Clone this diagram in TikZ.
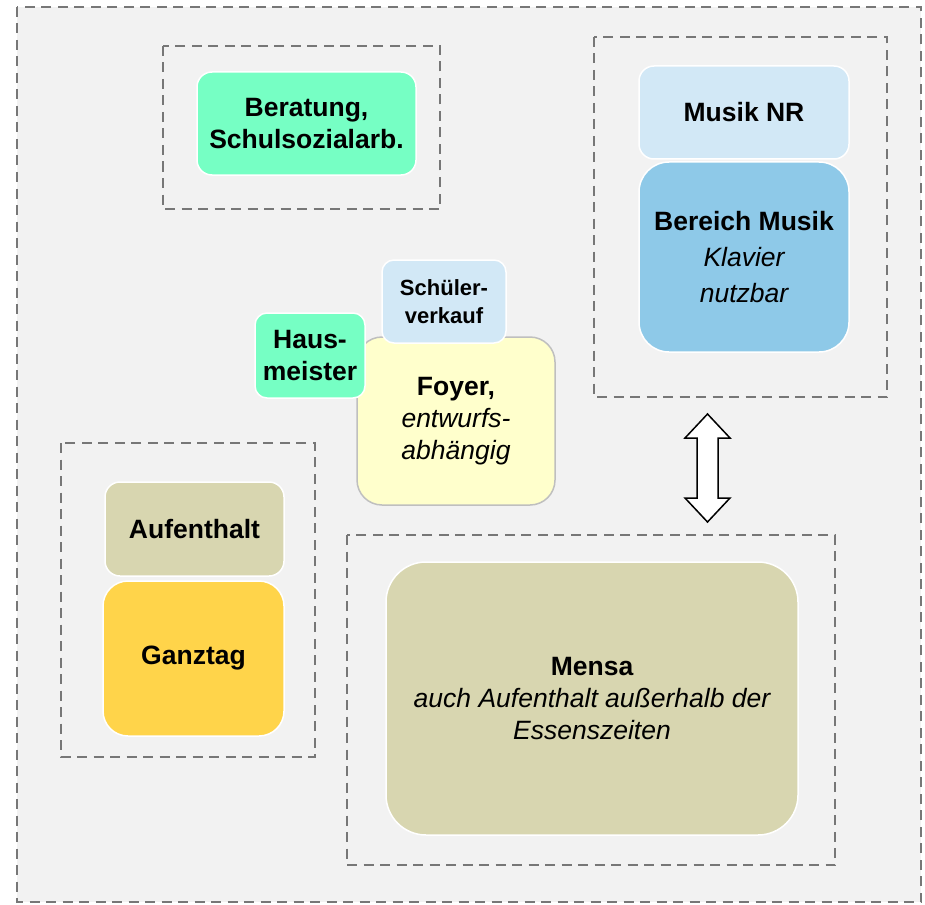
\documentclass[tikz,border=0pt]{standalone}
\usepackage{fontspec}
\setmainfont{Liberation Sans}
\definecolor{bgray}{HTML}{F2F2F2}
\definecolor{dgray}{HTML}{777777}
\definecolor{aqua}{HTML}{76FFC4}
\definecolor{lblue}{HTML}{D2E8F6}
\definecolor{mblue}{HTML}{8EC9E8}
\definecolor{khaki}{HTML}{D8D6B0}
\definecolor{gold}{HTML}{FFD44A}
\definecolor{lyellow}{HTML}{FFFFCC}
\definecolor{fborder}{HTML}{BFBFBF}
\tikzset{
  zone/.style={draw=dgray, line width=2.7pt, dash pattern=on 10pt off 6.5pt},
  room/.style={rectangle, draw=white, line width=1.5pt, align=center, inner sep=0pt,
    font=\fontsize{26.5}{32}\selectfont, text=black},
}
\begin{document}
\begin{tikzpicture}[x=1pt,y=-1pt]
\useasboundingbox (0,0) rectangle (925,904);
\fill[white] (0,0) rectangle (925,904);
% outer area
\draw[zone, fill=bgray] (17,7) rectangle (921,902);
% zones
\draw[zone] (163,46) rectangle (440,209);
\draw[zone] (594,37) rectangle (887,397);
\draw[zone] (61,443) rectangle (315,757);
\draw[zone] (347,535) rectangle (835,865);
% rooms
\node[room, fill=aqua, rounded corners=15pt, minimum width=219pt, minimum height=103pt]
  (beratung) at (306.5,123.5) {\bfseries Beratung,\\\bfseries Schulsozialarb.};
\node[room, fill=lblue, rounded corners=15pt, minimum width=210pt, minimum height=93pt]
  (musiknr) at (744,112.5) {\bfseries Musik NR};
\node[room, fill=mblue, rounded corners=30pt, minimum width=210pt, minimum height=190pt,
  font=\fontsize{26.5}{36}\selectfont]
  (musik) at (744,257) {\bfseries Bereich Musik\\\itshape Klavier\\\itshape nutzbar};
\node[room, draw=fborder, fill=lyellow, rounded corners=25pt, minimum width=198pt, minimum height=168pt]
  (foyer) at (456,421) {\bfseries Foyer,\\\itshape entwurfs-\\\itshape abh\"angig};
\node[room, fill=lblue, rounded corners=12pt, minimum width=124pt, minimum height=83pt,
  font=\fontsize{22}{28}\selectfont]
  (verkauf) at (444,301.5) {\bfseries Sch\"uler-\\\bfseries verkauf};
\node[room, fill=aqua, rounded corners=12pt, minimum width=110pt, minimum height=85pt]
  (hausmeister) at (310,355.5) {\bfseries Haus-\\\bfseries meister};
\node[room, fill=khaki, rounded corners=15pt, minimum width=179pt, minimum height=94pt]
  (aufenthalt) at (194.5,529) {\bfseries Aufenthalt};
\node[room, fill=gold, rounded corners=25pt, minimum width=181pt, minimum height=155pt]
  (ganztag) at (193.5,658.5) {\bfseries Ganztag};
\node[room, fill=khaki, rounded corners=40pt, minimum width=412pt, minimum height=273pt]
  (mensa) at (592,698.5) {\bfseries Mensa\\\itshape auch Aufenthalt au\ss erhalb der\\\itshape Essenszeiten};
% double block arrow
\draw[black, line width=1.5pt, fill=white, line join=miter]
  (707.5,414) -- (730,438) -- (718,438) -- (718,498) -- (730,498) -- (707.5,522)
  -- (685,498) -- (697,498) -- (697,438) -- (685,438) -- cycle;
\end{tikzpicture}
\end{document}
